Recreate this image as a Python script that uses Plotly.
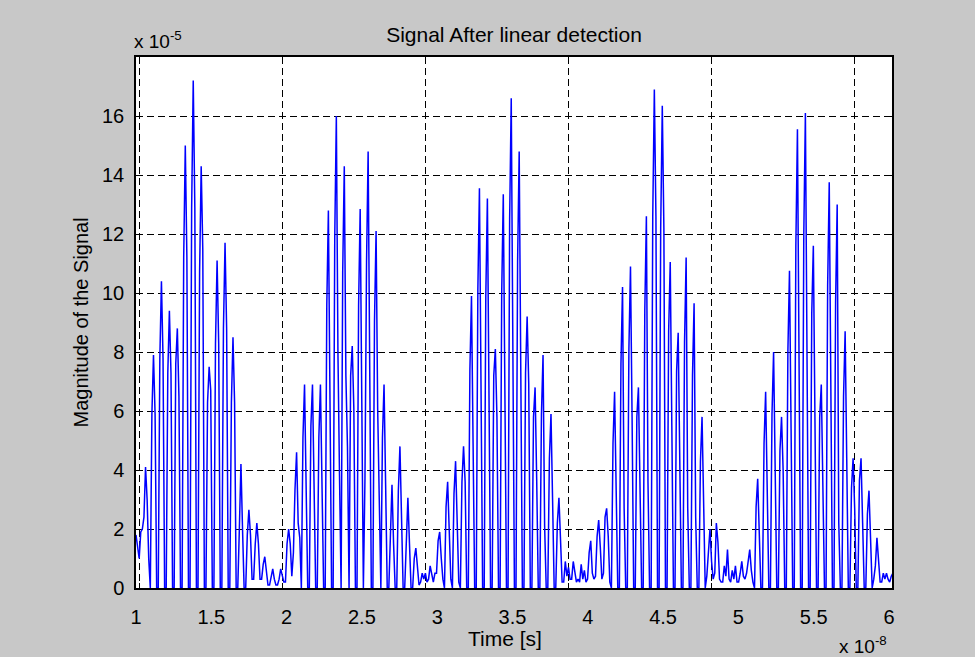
import numpy as np
import plotly.graph_objects as go

# Linear-detector output. Time in units of 1e-8 s, magnitude in units of 1e-5.
T_START = 1.0
DT = 0.010558

# Samples grouped by burst (each burst includes the quiet stretch that follows it).
burst_1 = [
    1.8, 1.3, 1.0, 1.9,
    2.0, 2.4, 4.1, 3.0, 1.0,
    0, 5.9, 7.9, 5.9, 0,
    0, 7.8, 10.4, 7.8, 0,
    0, 7.3, 9.4, 7.3, 0,
    0, 7.6, 8.8, 6.5, 0,
    0, 11.2, 15.0, 11.2, 0,
    0, 12.9, 17.2, 12.9, 0,
    0, 10.7, 14.3, 11.5, 0,
    0, 6.3, 7.5, 6.7, 0,
    0, 8.3, 11.1, 8.3, 0,
    0, 8.8, 11.7, 8.8, 0,
    0, 6.3, 8.5, 6.3, 0,
    0, 2.0, 4.2, 2.0, 0,
    0, 1.8, 2.65, 1.8, 0.3,
    0.3, 1.5, 2.2, 1.5, 0.3,
    0.3, 0.8, 1.06, 0.6, 0.1,
    0.1, 0.4, 0.65, 0.3, 0.1,
    0.1, 0.3, 0.65, 0.4, 0.2,
]

burst_2 = [
    0.2, 1.5, 2.0, 1.5, 0.4,
    1.2, 3.35, 4.6, 2.2, 1.7,
    0, 5.1, 6.9, 3.4, 0,
    0, 5.5, 6.9, 2.5, 0,
    0, 5.1, 6.9, 2.4, 0,
    0, 9.6, 12.8, 6.4, 0,
    0, 11.9, 16.0, 8.0, 3.8,
    0, 10.7, 14.3, 7.2, 4.8,
    0, 7.2, 8.2, 6.1, 0,
    0, 9.6, 12.85, 6.4, 0,
    3.7, 11.05, 14.8, 7.4, 0,
    0, 9.05, 12.1, 6.06, 3.0,
    0, 5.1, 6.9, 3.5, 0,
    0, 2.2, 3.5, 1.5, 0,
    0, 3.3, 4.8, 2.35, 0,
    0, 1.5, 3.06, 1.5, 0,
    0, 1.0, 1.35, 0.6, 0.1,
    0.2, 0.5, 0.3, 0.5, 0.2,
    0.3, 0.75, 0.4, 0.2, 0.5,
    0.5, 1.6, 1.9, 1.0, 0.3,
]

burst_3 = [
    0, 2.75, 3.6, 1.5, 0.3,
    0, 3.2, 4.3, 2.5, 0.2,
    0, 3.6, 4.8, 3.6, 0,
    0, 7.4, 9.9, 4.9, 0,
    0, 10.1, 13.55, 6.75, 0,
    0, 9.9, 13.2, 6.6, 0,
    0, 7.2, 8.1, 5.8, 0,
    0, 10.0, 13.35, 6.7, 0,
    0, 12.5, 16.6, 8.3, 0,
    0, 11.05, 14.8, 7.35, 0,
    0, 7.3, 9.2, 6.95, 0,
    0, 5.8, 6.8, 3.7, 0,
    0, 5.9, 7.9, 2.1, 0,
    0, 4.4, 5.9, 3.0, 0,
    0, 2.2, 3.06, 1.5, 0.2,
    0.2, 0.9, 0.4, 0.7, 0.3,
    0.3, 0.9, 0.5, 0.2, 0.3,
]

burst_4 = [
    0.2, 0.8, 0.3, 0.6, 0.2,
    0.3, 1.2, 1.6, 0.5, 0.3,
    0.4, 1.75, 2.3, 1.4, 0.3,
    0.5, 2.4, 2.7, 1.75, 0.2,
    0, 4.9, 6.65, 3.3, 0,
    0, 7.6, 10.2, 2.7, 0,
    0, 8.1, 10.9, 5.8, 0,
    0, 5.8, 6.8, 3.6, 0,
    0, 9.4, 12.6, 3.6, 0,
    0, 12.6, 16.9, 12.6, 0,
    0, 12.2, 16.35, 12.2, 0,
    0, 8.7, 11.05, 5.5, 0,
    0, 7.35, 8.65, 5.1, 0,
    0, 8.35, 11.2, 2.7, 0,
    0, 7.2, 9.65, 2.4, 0,
    0, 4.3, 5.8, 2.9, 0,
    0.4, 1.4, 2.0, 0.9, 0.3,
    0.5, 2.2, 1.55, 0.3, 0.2,
]

burst_5 = [
    0.2, 0.75, 0.4, 1.3, 0.3,
    0.2, 0.6, 0.3, 0.75, 0.2,
    0.2, 0.5, 0.9, 0.4, 0.3,
    0.5, 1.0, 1.3, 0.6, 0.2,
    0, 2.75, 3.7, 1.9, 0,
    0, 4.9, 6.65, 3.3, 0,
    0, 5.9, 8.0, 3.8, 0,
    0, 4.65, 5.8, 4.0, 0,
    0, 8.05, 10.75, 5.4, 0,
    0, 11.6, 15.55, 7.8, 0,
    0, 12.0, 16.1, 8.05, 0,
    0, 9.3, 11.6, 4.5, 0,
    0, 5.8, 6.9, 3.0, 0,
    0, 10.25, 13.75, 6.5, 0,
    0, 9.7, 13.0, 2.2, 0,
    0, 6.5, 8.7, 4.4, 0,
    0, 3.4, 4.4, 2.7, 0,
    0, 3.65, 4.4, 2.2, 0,
    0, 2.5, 3.3, 1.2, 0,
    0.3, 0.75, 1.7, 0.8, 0.2,
    0.2, 0.5, 0.3, 0.5, 0.3,
    0.2, 0.4, 0.5,
]

x_tick_vals = [1, 1.5, 2, 2.5, 3, 3.5, 4, 4.5, 5, 5.5, 6]
x_tick_text = ["1", "1.5", "2", "2.5", "3", "3.5", "4", "4.5", "5", "5.5", "6"]
y_tick_vals = [0, 2, 4, 6, 8, 10, 12, 14, 16]
y_tick_text = ["0", "2", "4", "6", "8", "10", "12", "14", "16"]
x_grid_vals = [1.023, 1.973, 2.923, 3.872, 4.822, 5.771]

X_RANGE = [1.0, 6.02]
Y_RANGE = [0, 18]

signal = np.array(burst_1 + burst_2 + burst_3 + burst_4 + burst_5, dtype=float)
t = T_START + DT * np.arange(signal.size)

FONT = "Liberation Sans, Arial, Helvetica, sans-serif"
GRID_DASH = "7px,4px"

fig = go.Figure()
fig.add_trace(go.Scatter(
    x=t, y=signal, mode="lines",
    line=dict(color="#0000ff", width=1.5),
    showlegend=False, hoverinfo="skip",
))
# empty trace so the grid axis is laid out
fig.add_trace(go.Scatter(x=[], y=[], xaxis="x2", yaxis="y", showlegend=False, hoverinfo="skip"))

fig.update_layout(
    width=975, height=657,
    margin=dict(l=136, r=83, t=57, b=69),
    paper_bgcolor="#c8c8c8",
    plot_bgcolor="#ffffff",
    showlegend=False,
    font=dict(family=FONT, size=20, color="#000000"),
    title=dict(
        text="Signal After linear detection",
        x=0.5, xref="paper", xanchor="center",
        y=1 - 35 / 657, yref="container", yanchor="middle",
        font=dict(family=FONT, size=21, color="#000000"),
    ),
    xaxis=dict(
        range=X_RANGE, tickvals=x_tick_vals, ticktext=x_tick_text,
        ticks="", showgrid=False, zeroline=False,
        showline=True, linecolor="#000000", linewidth=1.5, mirror=True,
        ticklabelstandoff=10,
    ),
    xaxis2=dict(
        range=X_RANGE, overlaying="x", anchor="y", side="bottom",
        tickvals=x_grid_vals, showticklabels=False,
        ticks="inside", ticklen=5, tickcolor="#000000", mirror="ticks",
        showline=True, linecolor="#000000", linewidth=1.5,
        showgrid=True, gridcolor="#000000", gridwidth=1.3, griddash=GRID_DASH,
        zeroline=False,
    ),
    yaxis=dict(
        range=Y_RANGE, tickvals=y_tick_vals, ticktext=y_tick_text,
        ticks="inside", ticklen=5, tickcolor="#000000",
        showline=True, linecolor="#000000", linewidth=1.5, mirror="ticks",
        showgrid=True, gridcolor="#000000", gridwidth=1.3, griddash=GRID_DASH,
        zeroline=False, ticklabelstandoff=6,
    ),
    annotations=[
        dict(text="Magnitude of the Signal", textangle=-90,
             xref="paper", yref="paper", x=(80 - 136) / 756, y=0.5,
             xanchor="center", yanchor="middle", showarrow=False,
             font=dict(family=FONT, size=20, color="#000000")),
        dict(text="Time [s]",
             xref="paper", yref="paper", x=(505 - 136) / 756, y=(588 - 639) / 531,
             xanchor="center", yanchor="middle", showarrow=False,
             font=dict(family=FONT, size=21, color="#000000")),
        dict(text="x 10<sup>-5</sup>",
             xref="paper", yref="paper", x=(132 - 136) / 756, y=(588 - 54) / 531,
             xanchor="left", yanchor="bottom", showarrow=False,
             font=dict(family=FONT, size=19, color="#000000")),
        dict(text="x 10<sup>-8</sup>",
             xref="paper", yref="paper", x=(889 - 136) / 756, y=(588 - 659) / 531,
             xanchor="right", yanchor="bottom", showarrow=False,
             font=dict(family=FONT, size=19, color="#000000")),
    ],
)

fig.write_html("out.html")
